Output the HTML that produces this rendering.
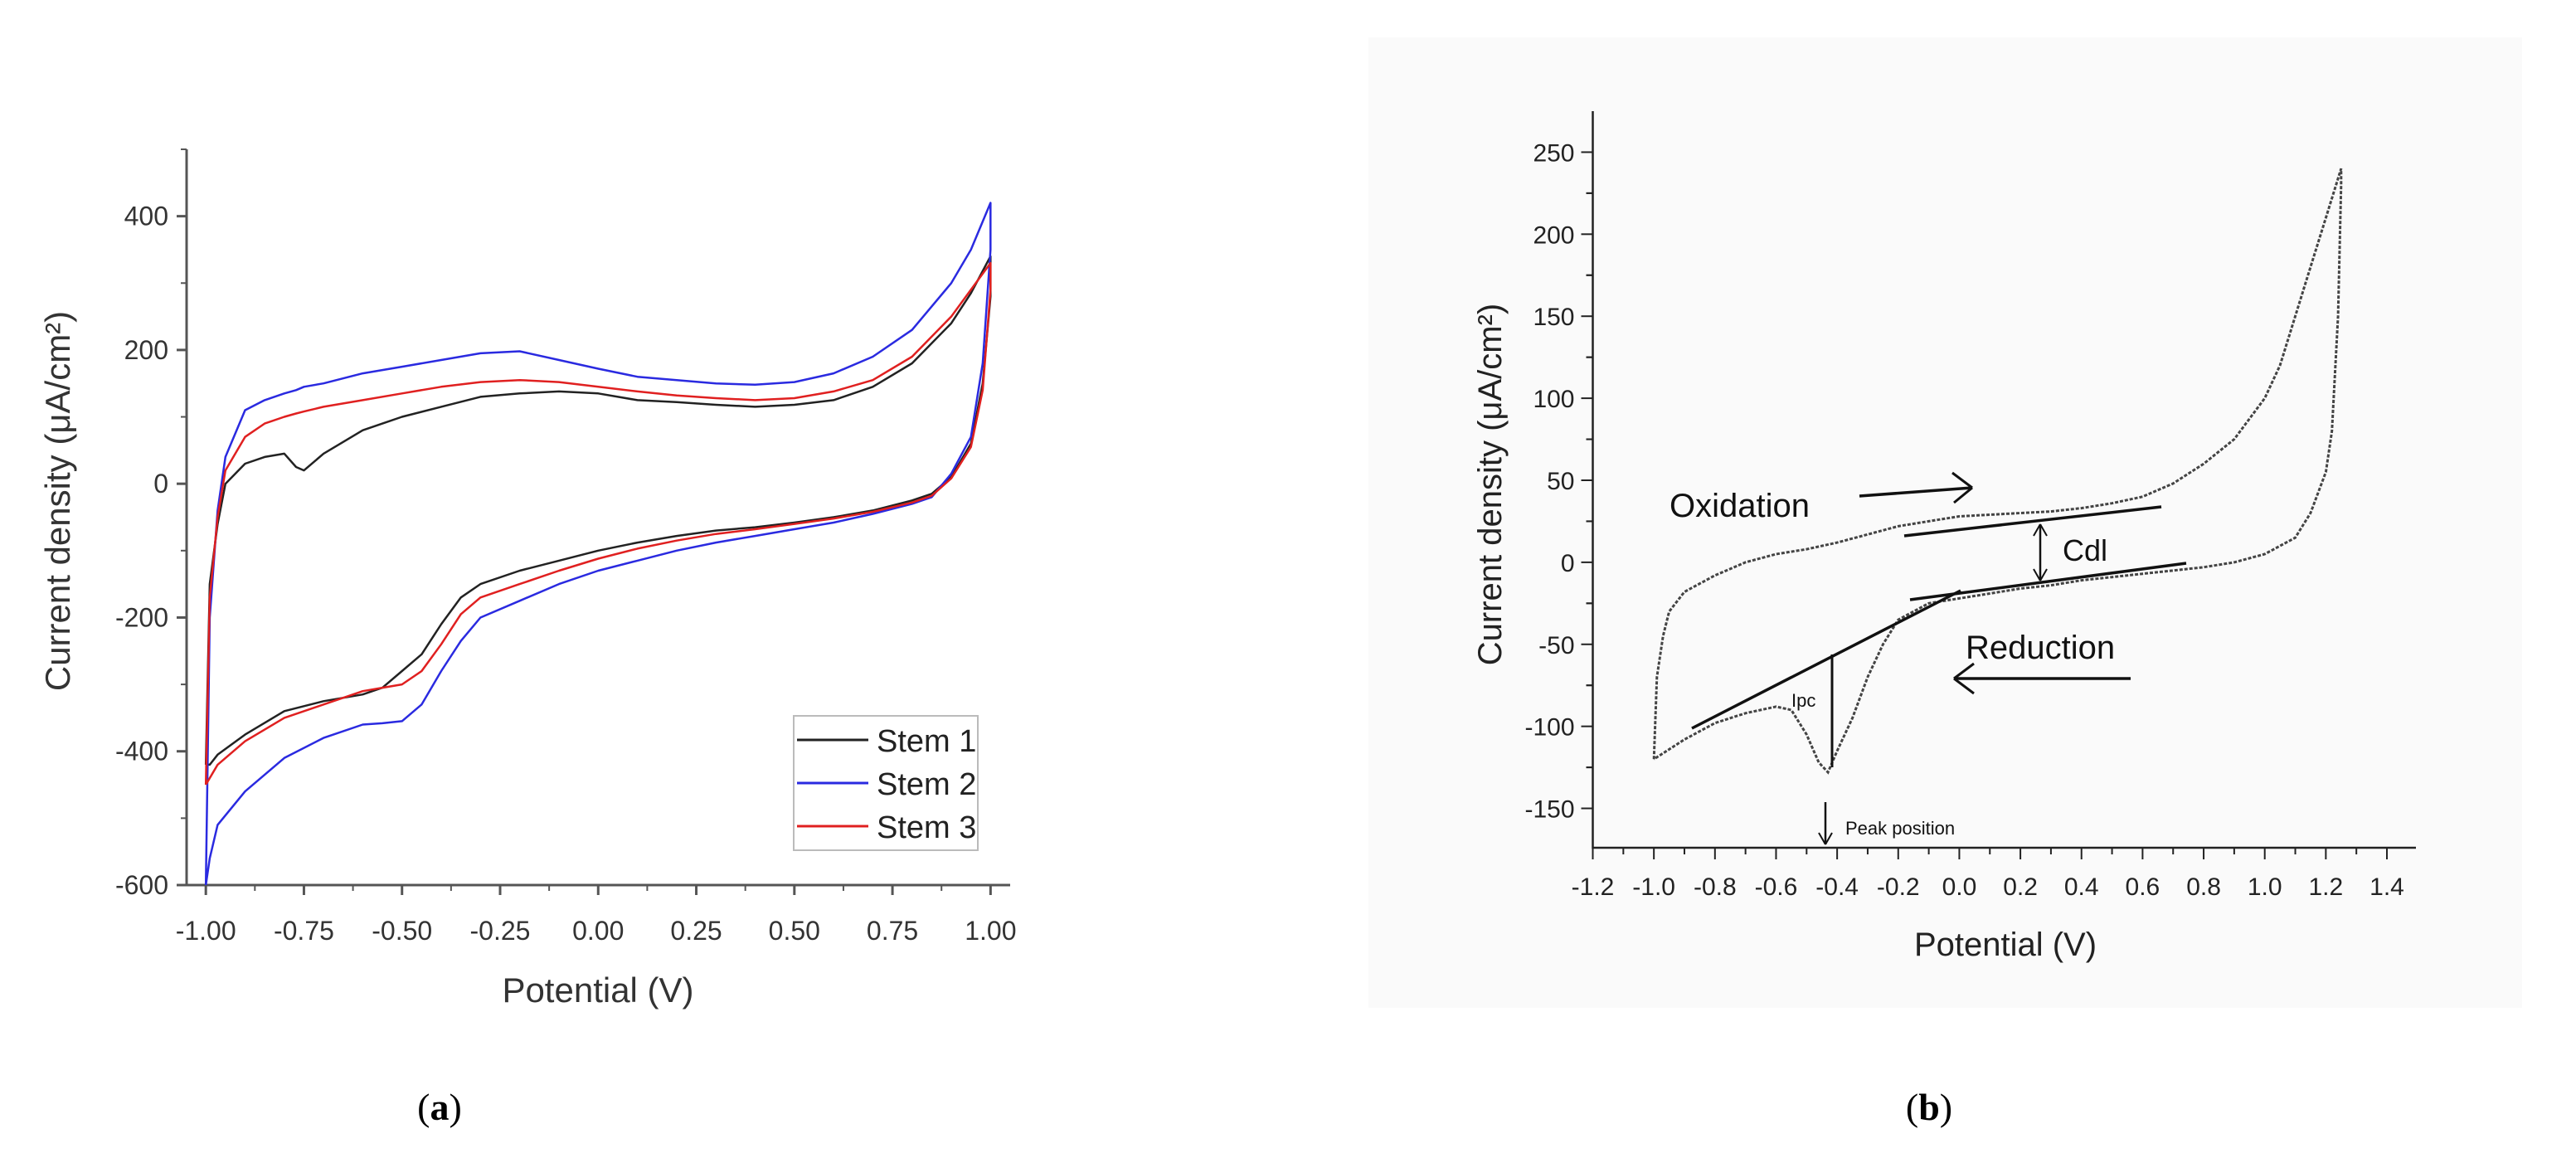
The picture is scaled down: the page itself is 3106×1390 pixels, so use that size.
<!DOCTYPE html>
<html><head><meta charset="utf-8"><style>
html,body{margin:0;padding:0;background:#fff;}
svg{display:block;font-family:"Liberation Sans",Arial,sans-serif;}
</style></head><body>
<svg id="fig" width="3106" height="1390" viewBox="0 0 3106 1390" xmlns="http://www.w3.org/2000/svg">
<rect x="1650" y="45" width="1391" height="1170" fill="#fafafa"/>
<g id="pa"></g>
<g id="pb"></g>
<text x="530" y="1350" font-family="Liberation Serif,serif" font-size="46" text-anchor="middle">(<tspan font-weight="bold">a</tspan>)</text>
<text x="2326" y="1350" font-family="Liberation Serif,serif" font-size="46" text-anchor="middle">(<tspan font-weight="bold">b</tspan>)</text>
</svg>
<script>
// ---- Panel A data ----
const aXTicks = [-1.00,-0.75,-0.50,-0.25,0.00,0.25,0.50,0.75,1.00];
const aXTickLabels = ["-1.00","-0.75","-0.50","-0.25","0.00","0.25","0.50","0.75","1.00"];
const aYTicks = [-600,-400,-200,0,200,400];
const aYTickLabels = ["-600","-400","-200","0","200","400"];
const aSeriesNames = ["Stem 1","Stem 2","Stem 3"];
const aUpperX = [-1.00,-0.99,-0.97,-0.95,-0.90,-0.85,-0.80,-0.77,-0.75,-0.70,-0.60,-0.50,-0.40,-0.30,-0.20,-0.10,0.00,0.10,0.20,0.30,0.40,0.50,0.60,0.70,0.80,0.90,0.95,1.00];
const stem1Upper = [-420,-150,-60,0,30,40,45,25,20,45,80,100,115,130,135,138,135,125,122,118,115,118,125,145,180,240,285,340];
const stem2Upper = [-600,-200,-40,40,110,125,135,140,145,150,165,175,185,195,198,185,172,160,155,150,148,152,165,190,230,300,350,420];
const stem3Upper = [-450,-170,-50,20,70,90,100,105,108,115,125,135,145,152,155,152,145,138,132,128,125,128,138,155,190,250,290,330];
const aLowerX = [1.00,0.98,0.95,0.90,0.85,0.80,0.70,0.60,0.50,0.40,0.30,0.20,0.10,0.00,-0.10,-0.20,-0.30,-0.35,-0.40,-0.45,-0.50,-0.55,-0.60,-0.70,-0.80,-0.90,-0.97,-0.99,-1.00];
const stem1Lower = [280,150,60,10,-15,-25,-40,-50,-58,-65,-70,-78,-88,-100,-115,-130,-150,-170,-210,-255,-280,-305,-315,-325,-340,-375,-405,-420,-420];
const stem2Lower = [350,180,70,15,-20,-30,-45,-58,-68,-78,-88,-100,-115,-130,-150,-175,-200,-235,-280,-330,-355,-358,-360,-380,-410,-460,-510,-560,-600];
const stem3Lower = [290,140,55,8,-18,-28,-42,-52,-60,-68,-75,-85,-97,-112,-130,-150,-170,-195,-240,-280,-300,-305,-310,-330,-350,-385,-420,-440,-450];

// ---- Panel B data ----
const bXTicks = [-1.2,-1.0,-0.8,-0.6,-0.4,-0.2,0.0,0.2,0.4,0.6,0.8,1.0,1.2,1.4];
const bXTickLabels = ["-1.2","-1.0","-0.8","-0.6","-0.4","-0.2","0.0","0.2","0.4","0.6","0.8","1.0","1.2","1.4"];
const bYTicks = [-150,-100,-50,0,50,100,150,200,250];
const bYTickLabels = ["-150","-100","-50","0","50","100","150","200","250"];
const bOxX = [-1.0,-0.99,-0.97,-0.95,-0.9,-0.8,-0.7,-0.6,-0.5,-0.4,-0.3,-0.2,-0.1,0.0,0.1,0.2,0.3,0.4,0.5,0.6,0.7,0.8,0.9,1.0,1.05,1.1,1.15,1.2,1.25];
const bOxY = [-120,-70,-45,-30,-18,-8,0,5,8,12,17,22,25,28,29,30,31,33,36,40,48,60,75,100,120,150,180,210,240];
const bRedX = [1.25,1.24,1.22,1.2,1.15,1.1,1.0,0.9,0.8,0.7,0.6,0.5,0.4,0.3,0.2,0.1,0.0,-0.1,-0.2,-0.25,-0.3,-0.35,-0.4,-0.43,-0.46,-0.5,-0.55,-0.6,-0.7,-0.8,-0.9,-1.0];
const bRedY = [230,150,80,55,30,15,5,0,-3,-5,-7,-9,-11,-14,-16,-19,-22,-25,-35,-50,-70,-95,-115,-128,-122,-105,-90,-88,-92,-98,-108,-120];

const NS="http://www.w3.org/2000/svg";
function mk(parent,tag,attrs,text){const e=document.createElementNS(NS,tag);for(const k in attrs)e.setAttribute(k,attrs[k]);if(text!==undefined)e.textContent=text;parent.appendChild(e);return e;}

// ---- Panel A ----
(function(){
const g=document.getElementById('pa');
const X0=225,X1=1218,xmin=-1.049,xmax=1.05;
const Yb=1067,Yt=180,ymin=-600,ymax=500;
const sx=v=>X0+(v-xmin)/(xmax-xmin)*(X1-X0);
const sy=v=>Yb-(v-ymin)/(ymax-ymin)*(Yb-Yt);
const ax=mk(g,'path',{d:`M${X0},${Yt}V${Yb}H${X1}`,stroke:'#555',"stroke-width":3,fill:'none'});


for(let i=0;i<aXTicks.length;i++){
 const x=sx(aXTicks[i]);
 mk(g,'line',{x1:x,y1:Yb,x2:x,y2:Yb+12,stroke:'#555',"stroke-width":3});
 if(i<aXTicks.length-1){const xm=sx((aXTicks[i]+aXTicks[i+1])/2);mk(g,'line',{x1:xm,y1:Yb,x2:xm,y2:Yb+7,stroke:'#555',"stroke-width":2});}
 const t=mk(g,'text',{x:x,y:Yb+66,"font-size":32,"text-anchor":"middle",fill:'#333'},aXTickLabels[i]);
 
 
}
for(let i=0;i<aYTicks.length;i++){
 const y=sy(aYTicks[i]);
 mk(g,'line',{x1:X0,y1:y,x2:X0-12,y2:y,stroke:'#555',"stroke-width":3});
 const ym=sy(aYTicks[i]+100);mk(g,'line',{x1:X0,y1:ym,x2:X0-7,y2:ym,stroke:'#555',"stroke-width":2});
 const t=mk(g,'text',{x:X0-22,y:y+11,"font-size":32,"text-anchor":"end",fill:'#333'},aYTickLabels[i]);
 
 
}
const xt=mk(g,'text',{x:721,y:1208,"font-size":42,"text-anchor":"middle",fill:'#333'},'Potential (V)');


const yt=mk(g,'text',{x:0,y:0,"font-size":42,"text-anchor":"middle",fill:'#333',transform:'translate(84,604) rotate(-90)'},'Current density (μA/cm²)');


const cols=['#222','#2a2ae0','#e02020'];
const ups=[stem1Upper,stem2Upper,stem3Upper],los=[stem1Lower,stem2Lower,stem3Lower];
for(let s=0;s<3;s++){
 let d='';
 aUpperX.forEach((x,i)=>{d+=(i?'L':'M')+sx(x).toFixed(1)+','+sy(ups[s][i]).toFixed(1);});
 aLowerX.forEach((x,i)=>{d+='L'+sx(x).toFixed(1)+','+sy(los[s][i]).toFixed(1);});
 const p=mk(g,'path',{d:d,stroke:cols[s],"stroke-width":2.5,fill:'none',"stroke-linejoin":"round"});
 
 
}
const lg=mk(g,'g',{});


mk(lg,'rect',{x:957,y:863,width:222,height:162,fill:'#fff',stroke:'#bbb',"stroke-width":2});
for(let s=0;s<3;s++){
 const y=892+s*52;
 mk(lg,'line',{x1:961,y1:y,x2:1047,y2:y,stroke:cols[s],"stroke-width":3});
 const t=mk(lg,'text',{x:1057,y:y+14,"font-size":38,fill:'#222'},aSeriesNames[s]);
 
 
}
})();

// ---- Panel B ----
(function(){
const g=document.getElementById('pb');
const X0=1920.5,X1=2913,xmin=-1.2,xmax=1.495;
const Yb=1022,Yt=134,ymin=-174,ymax=275;
const sx=v=>X0+(v-xmin)/(xmax-xmin)*(X1-X0);
const sy=v=>Yb-(v-ymin)/(ymax-ymin)*(Yb-Yt);
const ax=mk(g,'path',{d:`M${X0},${Yt}V${Yb}H${X1}`,stroke:'#222',"stroke-width":2.5,fill:'none'});


for(let i=0;i<bXTicks.length;i++){
 const x=sx(bXTicks[i]);
 mk(g,'line',{x1:x,y1:Yb,x2:x,y2:Yb+14,stroke:'#222',"stroke-width":2});
 const xm=sx(bXTicks[i]+0.1);if(bXTicks[i]+0.1<xmax)mk(g,'line',{x1:xm,y1:Yb,x2:xm,y2:Yb+8,stroke:'#222',"stroke-width":2});
 const t=mk(g,'text',{x:x,y:Yb+57,"font-size":30,"text-anchor":"middle",fill:'#222'},bXTickLabels[i]);
 
 
}
for(let i=0;i<bYTicks.length;i++){
 const y=sy(bYTicks[i]);
 mk(g,'line',{x1:X0,y1:y,x2:X0-14,y2:y,stroke:'#222',"stroke-width":2});
 const ym=sy(bYTicks[i]+25);if(bYTicks[i]+25<ymax)mk(g,'line',{x1:X0,y1:ym,x2:X0-8,y2:ym,stroke:'#222',"stroke-width":2});
 const ym2=sy(bYTicks[i]-25);if(bYTicks[i]-25>ymin)mk(g,'line',{x1:X0,y1:ym2,x2:X0-8,y2:ym2,stroke:'#222',"stroke-width":2});
 const t=mk(g,'text',{x:X0-22,y:y+11,"font-size":30,"text-anchor":"end",fill:'#222'},bYTickLabels[i]);
 
 
}
const xt=mk(g,'text',{x:2418,y:1152,"font-size":40,"text-anchor":"middle",fill:'#222'},'Potential (V)');


const yt=mk(g,'text',{x:0,y:0,"font-size":40,"text-anchor":"middle",fill:'#222',transform:'translate(1810,584) rotate(-90)'},'Current density (μA/cm²)');


let d='';
bOxX.forEach((x,i)=>{d+=(i?'L':'M')+sx(x).toFixed(1)+','+sy(bOxY[i]).toFixed(1);});
bRedX.forEach((x,i)=>{d+='L'+sx(x).toFixed(1)+','+sy(bRedY[i]).toFixed(1);});
const p=mk(g,'path',{d:d,stroke:'#444',"stroke-width":3,fill:'none',"stroke-dasharray":"4 2"});


// annotations
const L=(a,b,c,e,w)=>mk(g,'line',{x1:a,y1:b,x2:c,y2:e,stroke:'#111',"stroke-width":w||3.5});
L(2296,646,2606,611);L(2303,723,2636,679);L(2040,878,2364,712);L(2209,789,2209,925,3);
L(2242,598,2378,588);L(2378,588,2354,570,3);L(2378,588,2356,606,3);
L(2569,818,2356,818);L(2356,818,2380,800,3);L(2356,818,2380,836,3);
L(2460,632,2460,700,2.5);L(2460,632,2452,646,2);L(2460,632,2468,646,2);L(2460,700,2452,686,2);L(2460,700,2468,686,2);
L(2201,967,2201,1018,2.5);L(2201,1018,2193,1004,2);L(2201,1018,2209,1004,2);
const T=(x,y,s,txt,nm)=>{const t=mk(g,'text',{x:x,y:y,"font-size":s,fill:'#111'},txt);};
T(2013,623,40,'Oxidation','oxidation-label');
T(2487,676,36,'Cdl','cdl-label');
T(2370,794,40,'Reduction','reduction-label');
T(2160,852,22,'Ipc','ipc-label');
T(2225,1006,22,'Peak position','peak-position-label');
})();
</script>
</body></html>
